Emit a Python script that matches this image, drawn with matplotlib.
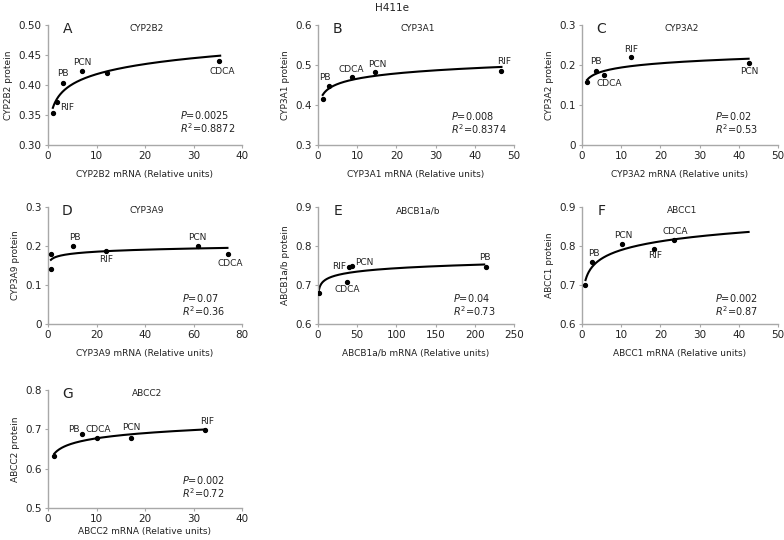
import numpy as np
import matplotlib
matplotlib.use("Agg")
import matplotlib.pyplot as plt
from matplotlib.ticker import FuncFormatter

plt.rcParams['font.family'] = ['DejaVu Sans']
plt.rcParams['mathtext.fontset'] = 'dejavusans'

# ---------------- data ----------------
letters = ["A", "B", "C", "D", "E", "F", "G"]
genes = ["CYP2B2", "CYP3A1", "CYP3A2", "CYP3A9", "ABCB1a/b", "ABCC1", "ABCC2"]

a_x = [1.03, 1.86, 3.09, 7.0, 12.1, 35.3]
a_y = [0.353, 0.371, 0.403, 0.423, 0.420, 0.440]
a_lab = ["", "RIF", "PB", "PCN", "", "CDCA"]

b_x = [1.27, 2.88, 8.64, 14.5, 46.8]
b_y = [0.416, 0.447, 0.470, 0.482, 0.484]
b_lab = ["", "PB", "CDCA", "PCN", "RIF"]

c_x = [1.37, 3.5, 5.5, 12.5, 42.5]
c_y = [0.157, 0.185, 0.174, 0.219, 0.204]
c_lab = ["", "PB", "CDCA", "RIF", "PCN"]

d_x = [1.23, 1.2, 10.5, 24.0, 61.8, 74.2]
d_y = [0.141, 0.179, 0.199, 0.187, 0.2006, 0.179]
d_lab = ["", "", "PB", "RIF", "PCN", "CDCA"]

e_x = [0.7, 37.0, 40.0, 44.0, 214.0]
e_y = [0.679, 0.707, 0.747, 0.748, 0.747]
e_lab = ["", "CDCA", "RIF", "PCN", "PB"]

f_x = [0.85, 2.56, 10.3, 18.4, 23.5]
f_y = [0.699, 0.760, 0.806, 0.793, 0.816]
f_lab = ["", "PB", "PCN", "RIF", "CDCA"]

g_x = [1.3, 7.1, 10.1, 17.05, 32.3]
g_y = [0.632, 0.687, 0.678, 0.678, 0.698]
g_lab = ["", "PB", "CDCA", "PCN", "RIF"]

fit_ranges = [(1.0, 35.5), (1.2, 46.8), (1.3, 42.5), (1.2, 74.0), (0.6, 212.0), (0.9, 42.5), (1.3, 32.3)]
p_values = ["0.0025", "0.008", "0.02", "0.07", "0.04", "0.002", "0.002"]
r2_values = ["0.8872", "0.8374", "0.53", "0.36", "0.73", "0.87", "0.72"]

xlims = [(0, 40), (0, 50), (0, 50), (0, 80), (0, 250), (0, 50), (0, 40)]
xticks = [[0, 10, 20, 30, 40], [0, 10, 20, 30, 40, 50], [0, 10, 20, 30, 40, 50],
          [0, 20, 40, 60, 80], [0, 50, 100, 150, 200, 250], [0, 10, 20, 30, 40, 50],
          [0, 10, 20, 30, 40]]
ylims = [(0.30, 0.50), (0.3, 0.6), (0.0, 0.3), (0.0, 0.3), (0.6, 0.9), (0.6, 0.9), (0.5, 0.8)]
yticks = [[0.30, 0.35, 0.40, 0.45, 0.50], [0.3, 0.4, 0.5, 0.6], [0, 0.1, 0.2, 0.3],
          [0, 0.1, 0.2, 0.3], [0.6, 0.7, 0.8, 0.9], [0.6, 0.7, 0.8, 0.9], [0.5, 0.6, 0.7, 0.8]]
ydec = [2, 1, 1, 1, 1, 1, 1]

all_x = [a_x, b_x, c_x, d_x, e_x, f_x, g_x]
all_y = [a_y, b_y, c_y, d_y, e_y, f_y, g_y]
all_lab = [a_lab, b_lab, c_lab, d_lab, e_lab, f_lab, g_lab]

# ---------------- style / layout ----------------
W, H = 784, 540
# axes boxes in pixels: left, right, top, bottom
cols = [(48, 242), (318, 514), (582, 778)]
rows = [(25, 145), (207, 324), (390, 508)]
panel_pos = [(0, 0), (0, 1), (0, 2), (1, 0), (1, 1), (1, 2), (2, 0)]
stat_pos = [(0.68, 0.25), (0.68, 0.24), (0.68, 0.24), (0.69, 0.22), (0.69, 0.22), (0.68, 0.22), (0.69, 0.24)]
xlabelpads = [6, 6, 6, 6, 6, 6, 2]

# label offsets in pixels (dx right, dy up) and alignment
lab_off = {
    (0, "RIF"): (10, -5, "center"), (0, "PB"): (0, 10, "center"), (0, "PCN"): (0, 9, "center"),
    (0, "CDCA"): (3, -10, "center"),
    (1, "PB"): (-4, 9, "center"), (1, "CDCA"): (-1, 7, "center"), (1, "PCN"): (2, 8, "center"),
    (1, "RIF"): (3, 10, "center"),
    (2, "PB"): (0, 9, "center"), (2, "CDCA"): (6, -8, "center"), (2, "RIF"): (0, 8, "center"),
    (2, "PCN"): (1, -8, "center"),
    (3, "PB"): (1, 9, "center"), (3, "RIF"): (0, -8, "center"), (3, "PCN"): (-1, 8, "center"),
    (3, "CDCA"): (2, -9, "center"),
    (4, "RIF"): (-3, 0, "right"), (4, "PCN"): (3, 4, "left"), (4, "CDCA"): (0, -7, "center"),
    (4, "PB"): (-1, 9, "center"),
    (5, "PB"): (2, 8, "center"), (5, "PCN"): (1, 8, "center"), (5, "RIF"): (1, -7, "center"),
    (5, "CDCA"): (1, 8, "center"),
    (6, "PB"): (-3, 5, "right"), (6, "CDCA"): (-11, 8, "left"), (6, "PCN"): (1, 10, "center"),
    (6, "RIF"): (2, 9, "center"),
}

spine_col = "#a8a8a8"
text_col = "#222222"

fig = plt.figure(figsize=(W / 100, H / 100), dpi=100)
fig.text(392 / W, 1 - 8 / H, "H411e", ha="center", va="center", fontsize=7.5, color=text_col)

px2pt = 72 / 100

for i in range(7):
    r, c = panel_pos[i]
    l, rgt = cols[c]
    t, b = rows[r]
    ax = fig.add_axes([l / W, 1 - b / H, (rgt - l) / W, (b - t) / H])
    x = np.array(all_x[i])
    y = np.array(all_y[i])

    # log fit
    k, m = np.polyfit(np.log(x), y, 1)
    xf = np.linspace(fit_ranges[i][0], fit_ranges[i][1], 300)
    ax.plot(xf, k * np.log(xf) + m, color="black", lw=1.5, zorder=2)
    ax.plot(x, y, "o", color="black", ms=2.8, zorder=3)

    for xi, yi, lab in zip(x, y, all_lab[i]):
        if not lab:
            continue
        dx, dy, ha = lab_off[(i, lab)]
        ax.annotate(lab, (xi, yi), xytext=(dx * px2pt, dy * px2pt), textcoords="offset points",
                    ha=ha, va="center", fontsize=6.5, color=text_col)

    ax.set_xlim(*xlims[i])
    ax.set_ylim(*ylims[i])
    ax.set_xticks(xticks[i])
    ax.set_yticks(yticks[i])
    dec = ydec[i]
    ax.yaxis.set_major_formatter(FuncFormatter(lambda v, p, d=dec: "0" if abs(v) < 1e-9 else f"{v:.{d}f}"))
    for s in ["top", "right"]:
        ax.spines[s].set_visible(False)
    for s in ["left", "bottom"]:
        ax.spines[s].set_color(spine_col)
        ax.spines[s].set_linewidth(1.0)
    ax.tick_params(axis="both", colors=spine_col, labelcolor=text_col, labelsize=7.5,
                   length=2.5, width=0.8, pad=2)
    ax.set_xlabel(f"{genes[i]} mRNA (Relative units)", fontsize=6.5, color=text_col,
                  labelpad=xlabelpads[i])
    ax.set_ylabel(f"{genes[i]} protein", fontsize=6.5, color=text_col, labelpad=4)

    ax.text(0.1, 0.97, letters[i], transform=ax.transAxes, fontsize=10, ha="center", va="center",
            color=text_col)
    ax.text(0.51, 0.97, genes[i], transform=ax.transAxes, fontsize=6.5, ha="center", va="center",
            color=text_col)
    sx, sy = stat_pos[i]
    ax.text(sx, sy, f"$P$=" + p_values[i], transform=ax.transAxes, fontsize=7, ha="left",
            va="center", color=text_col)
    ax.text(sx, sy - 0.11, f"$R^2$=" + r2_values[i], transform=ax.transAxes, fontsize=7,
            ha="left", va="center", color=text_col)
    ax.patch.set_alpha(0)

fig.savefig("out.png", dpi=100, facecolor="white")
